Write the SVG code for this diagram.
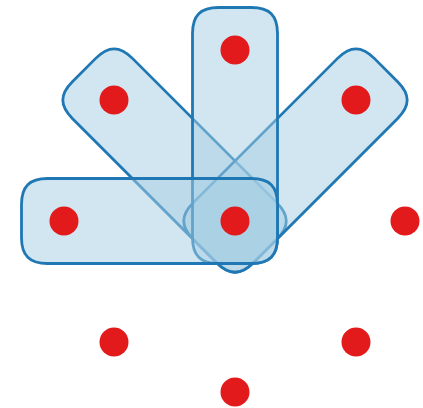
<svg xmlns="http://www.w3.org/2000/svg" xmlns:xlink="http://www.w3.org/1999/xlink" width="423" height="408" viewBox="0 0 423 408">
<style>
.edge{fill:#a6cee3;fill-opacity:0.5;stroke:#1f78b4;stroke-width:2.8}
.node{fill:#e31a1c}
</style>
<defs>
<path id="he" d="M-16.5,-42.5 H187.5 C205.5,-42.5 213.5,-34.5 213.5,-16.5 V16.5 C213.5,34.5 205.5,42.5 187.5,42.5 H-16.5 C-34.5,42.5 -42.5,34.5 -42.5,16.5 V-16.5 C-42.5,-34.5 -34.5,-42.5 -16.5,-42.5 Z"/>
</defs>
<rect width="423" height="408" fill="#ffffff"/>
<g id="connectors">
<use id="e1" class="edge" xlink:href="#he" href="#he" transform="translate(235,221) rotate(225)"/>
<use id="e2" class="edge" xlink:href="#he" href="#he" transform="translate(235,221) rotate(315)"/>
<use id="e3" class="edge" xlink:href="#he" href="#he" transform="translate(235,221) rotate(270)"/>
<use id="e4" class="edge" xlink:href="#he" href="#he" transform="translate(235,221) rotate(180)"/>
</g>
<g id="n0"><circle class="node" cx="235" cy="221" r="14.5"/></g>
<g id="n1"><circle class="node" cx="235" cy="50" r="14.5"/></g>
<g id="n2"><circle class="node" cx="114" cy="100" r="14.5"/></g>
<g id="n3"><circle class="node" cx="356" cy="100" r="14.5"/></g>
<g id="n4"><circle class="node" cx="64" cy="221" r="14.5"/></g>
<g id="n5"><circle class="node" cx="405" cy="221" r="14.5"/></g>
<g id="n6"><circle class="node" cx="114" cy="342" r="14.5"/></g>
<g id="n7"><circle class="node" cx="356" cy="342" r="14.5"/></g>
<g id="n8"><circle class="node" cx="235" cy="392" r="14.5"/></g>
</svg>
